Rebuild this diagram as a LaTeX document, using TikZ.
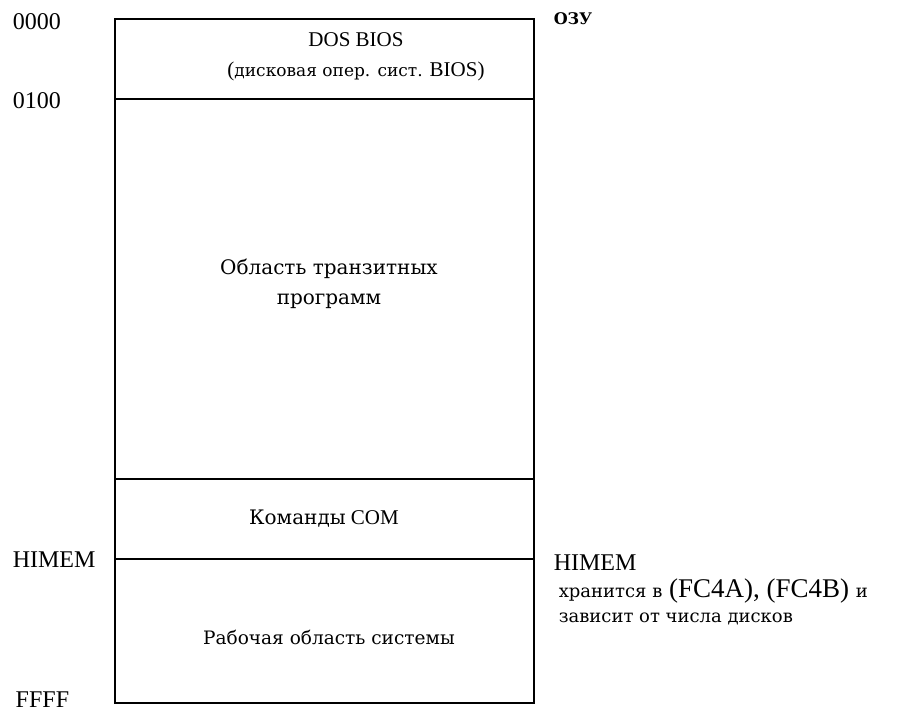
\documentclass[tikz,border=0pt]{standalone}
\usepackage{fontspec}
\setmainfont{Liberation Serif}
\newfontfamily\cyrfont{DejaVu Serif}
\tikzset{
  addr/.style={anchor=west, inner sep=0pt, font=\fontsize{24}{28}\selectfont},
  area/.style={align=center, inner sep=0pt, font=\fontsize{21}{30}\selectfont},
  note/.style={anchor=west, align=left, inner sep=0pt, font=\fontsize{27}{25}\selectfont}
}
\begin{document}
\begin{tikzpicture}[x=1pt,y=-1pt,line width=1.5pt]
\useasboundingbox (0,0) rectangle (901,714);
\coordinate (tl) at (115,19);
\coordinate (br) at (534,703);
\coordinate (a1) at (115,99);
\coordinate (b1) at (534,99);
\coordinate (a2) at (115,479);
\coordinate (b2) at (534,479);
\coordinate (a3) at (115,559);
\coordinate (b3) at (534,559);
\path[draw] (tl) rectangle (br);
\path[draw] (a1) -- (b1);
\path[draw] (a2) -- (b2);
\path[draw] (a3) -- (b3);
\node[area] (bios) at (356,57) {DOS BIOS\\({\cyrfont\fontsize{17}{30}\selectfont дисковая опер. сист.} BIOS)};
\node[area, font=\cyrfont\fontsize{20}{30}\selectfont] (tpa) at (329,284) {Область транзитных\\программ};
\node[area] (com) at (324,519) {{\cyrfont\fontsize{20}{30}\selectfont Команды} COM};
\node[area, font=\cyrfont\fontsize{18.5}{30}\selectfont] (work) at (329,637) {Рабочая область системы};
\node[addr] (0000) at (12,22) {0000};
\node[addr] (0100) at (12,101) {0100};
\node[addr] (himem) at (12,560) {HIMEM};
\node[addr] (ffff) at (15,700) {FFFF};
\node[addr, font=\cyrfont\bfseries\fontsize{16}{20}\selectfont] (ozu) at (553,19) {ОЗУ};
\node[addr] (himem2) at (553,563) {HIMEM};
\node[note] (keep) at (558,602) {{\cyrfont\fontsize{18}{25}\selectfont хранится в} (FC4A), (FC4B) {\cyrfont\fontsize{18}{25}\selectfont и}\\{\cyrfont\fontsize{18}{25}\selectfont зависит от числа дисков}};
\end{tikzpicture}
\end{document}
